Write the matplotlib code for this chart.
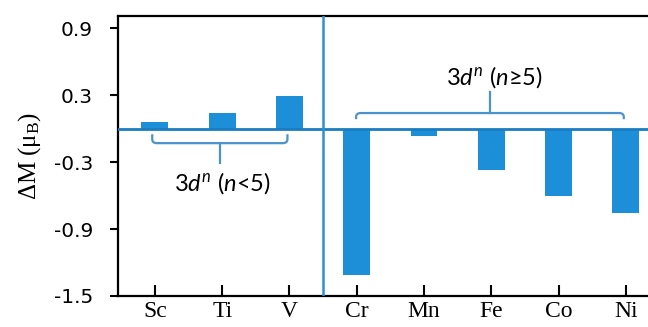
import matplotlib
matplotlib.use("Agg")
import matplotlib.pyplot as plt
from matplotlib.path import Path
from matplotlib.patches import PathPatch

plt.rcParams['font.family'] = ['Liberation Serif', 'DejaVu Serif']
plt.rcParams['mathtext.fontset'] = 'custom'
plt.rcParams['mathtext.rm'] = 'Liberation Serif'
plt.rcParams['mathtext.it'] = 'Lato:italic'

elements = ["Sc", "Ti", "V", "Cr", "Mn", "Fe", "Co", "Ni"]
delta_m = [0.06, 0.14, 0.29, -1.31, -0.07, -0.375, -0.60, -0.76]
yticks = [0.9, 0.3, -0.3, -0.9, -1.5]
ytick_labels = ["0.9", "0.3", "-0.3", "-0.9", "-1.5"]

bar_color = "#1c8fd8"
line_color = "#1a7cc1"
bracket_color = "#4a93cc"

fig = plt.figure(figsize=(6.48, 3.27), dpi=100)
ax = fig.add_axes([0.182, 0.095, 0.818, 0.856])

x = list(range(len(elements)))
ax.bar(x, delta_m, width=0.4, color=bar_color, zorder=2)

ax.axhline(0, color=line_color, lw=2.0, zorder=3)
ax.axvline(2.5, color="#2f8fd0", lw=1.8, zorder=3)

ax.set_xlim(-0.55, 7.33)
ax.set_ylim(-1.5, 1.01)
ax.set_xticks(x)
ax.set_xticklabels(elements, fontsize=17)
ax.set_yticks(yticks)
ax.set_yticklabels(ytick_labels, fontsize=14.5, family='DejaVu Sans')
ax.tick_params(axis='y', direction='out', length=6, width=1.5, pad=12)
ax.tick_params(axis='x', direction='in', length=8, width=1.5, pad=4)
for side in ['left', 'bottom', 'top']:
    ax.spines[side].set_linewidth(1.6)
ax.spines['right'].set_visible(False)

ax.set_ylabel("ΔM (μ$_{\\mathrm{B}}$)", fontsize=18, labelpad=8)


def bracket(x0, x1, y, tip, stem, r=0.07, rr=0.035):
    """Bracket with rounded ends turned toward the bars and a stem toward the label."""
    xm = (x0 + x1) / 2
    verts = [
        (x0, tip), (x0, y + (rr if tip > y else -rr)), (x0, y), (x0 + r, y),
        (x1 - r, y), (x1, y), (x1, y + (rr if tip > y else -rr)), (x1, tip),
    ]
    codes = [Path.MOVETO, Path.LINETO, Path.CURVE3, Path.CURVE3,
             Path.LINETO, Path.CURVE3, Path.CURVE3, Path.LINETO]
    ax.add_patch(PathPatch(Path(verts, codes), fill=False,
                           ec=bracket_color, lw=1.6, zorder=4))
    ax.plot([xm, xm], [y, stem], color=bracket_color, lw=1.6, zorder=4)


bracket(-0.04, 1.97, -0.13, -0.05, -0.31)
bracket(2.99, 6.97, 0.14, 0.085, 0.33)

ax.text(1.0, -0.49, r"3$d^{n}$ ($n$<5)", family='Lato',
        ha='center', va='center', fontsize=17)
ax.text(5.05, 0.46, r"3$d^{n}$ ($n$≥5)", family='Lato',
        ha='center', va='center', fontsize=17)

fig.savefig("out.png", dpi=100)
